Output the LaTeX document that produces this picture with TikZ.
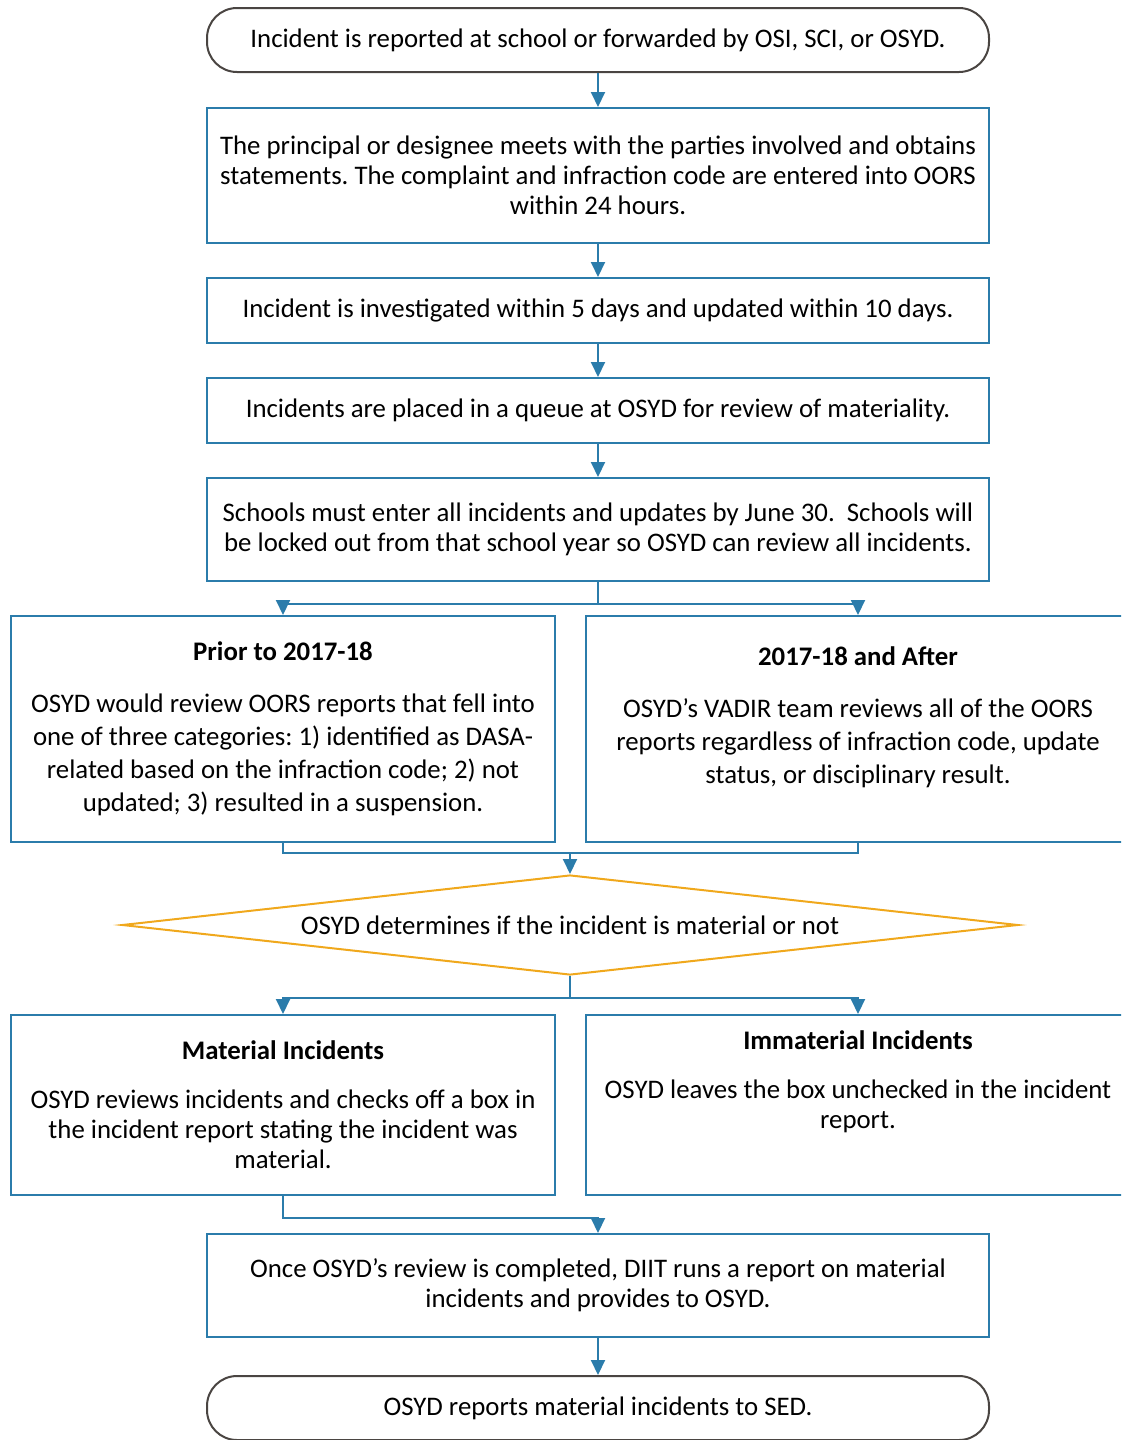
\documentclass[tikz,border=0pt]{standalone}
\usepackage{fontspec}
\setmainfont{Carlito}
\usetikzlibrary{positioning,shapes.geometric,arrows.meta}
\definecolor{flowblue}{HTML}{2B7CAB}
\definecolor{termgray}{HTML}{4A4542}
\definecolor{decgold}{HTML}{F0A81C}
\frenchspacing
\begin{document}
\begin{tikzpicture}[x=0.5pt, y=-0.5pt, node distance=16.5pt,
  every node/.style={font=\fontsize{13.4}{15}\selectfont, align=center, inner sep=0pt},
  term/.style={draw=termgray, line width=1pt, rounded corners=15pt, minimum width=391pt, minimum height=32pt},
  box/.style={draw=flowblue, line width=1pt, minimum width=391pt},
  side/.style={draw=flowblue, line width=1pt, minimum width=272pt},
  wide/.style={font=\fontsize{13.4}{16.5}\selectfont},
  decision/.style={diamond, draw=decgold, line width=1pt, aspect=8.88, minimum width=448pt, minimum height=50pt},
  flow/.style={draw=flowblue, line width=1pt, -{Triangle[length=7.5pt,width=7pt]}}]

\useasboundingbox (0,0) rectangle (1121,1440);
\clip (0,0) rectangle (1121,1440);

\node[term] (start) at (598,40) {Incident is reported at school or forwarded by OSI, SCI, or OSYD.};
\node[box, minimum height=67.5pt, below=17pt of start] (meet) {The principal or designee meets with the parties involved and obtains\\ statements. The complaint and infraction code are entered into OORS\\ within 24 hours.};
\node[box, minimum height=32.5pt, below=of meet] (investigate) {Incident is investigated within 5 days and updated within 10 days.};
\node[box, minimum height=32.5pt, below=of investigate] (queue) {Incidents are placed in a queue at OSYD for review of materiality.};
\node[box, minimum height=51.5pt, below=of queue] (deadline) {Schools must enter all incidents and updates by June 30.\ \ Schools will\\ be locked out from that school year so OSYD can review all incidents.};

\node[side, wide, minimum height=113pt] (prior) at (283,729) {\textbf{Prior to 2017-18}\\[9.5pt] OSYD would review OORS reports that fell into\\ one of three categories: 1) identified as DASA-\\ related based on the infraction code; 2) not\\ updated; 3) resulted in a suspension.};
\node[side, minimum height=113pt] (after) at (858,729) {};
\node[wide, below=15.5pt of after.north] (aftertext) {\textbf{2017-18 and After}\\[9.5pt] OSYD’s VADIR team reviews all of the OORS\\ reports regardless of infraction code, update\\ status, or disciplinary result.};

\node[decision] (decide) at (570,925) {OSYD determines if the incident is material or not};

\node[side, minimum height=90pt] (material) at (283,1105) {\textbf{Material Incidents}\\[9.5pt] OSYD reviews incidents and checks off a box in\\ the incident report stating the incident was\\ material.};
\node[side, minimum height=90pt] (immaterial) at (858,1105) {};
\node[below=8pt of immaterial.north] (immattext) {\textbf{Immaterial Incidents}\\[9.5pt] OSYD leaves the box unchecked in the incident\\ report.};

\node[box, minimum height=51.5pt] (diit) at (598,1285.5) {Once OSYD’s review is completed, DIIT runs a report on material\\ incidents and provides to OSYD.};
\node[term, below=18.5pt of diit] (finish) {OSYD reports material incidents to SED.};

\draw[flow] (start) -- (meet);
\draw[flow] (meet) -- (investigate);
\draw[flow] (investigate) -- (queue);
\draw[flow] (queue) -- (deadline);
\draw[flow] (deadline.south) -- ++(0,22) -| (prior.north);
\draw[flow] (deadline.south) ++(0,22) -| (after.north);
\draw[draw=flowblue, line width=1pt] (prior.south) -- ++(0,10) coordinate (join) -| (after.south);
\draw[flow] (join -| decide.north) -- (decide.north);
\draw[flow] (decide.south) -- ++(0,22) -| (material.north);
\draw[flow] (decide.south) ++(0,22) -| (immaterial.north);
\draw[flow] (material.south) -- ++(0,22) -| (diit.north);
\draw[flow] (diit) -- (finish);
\end{tikzpicture}
\end{document}
